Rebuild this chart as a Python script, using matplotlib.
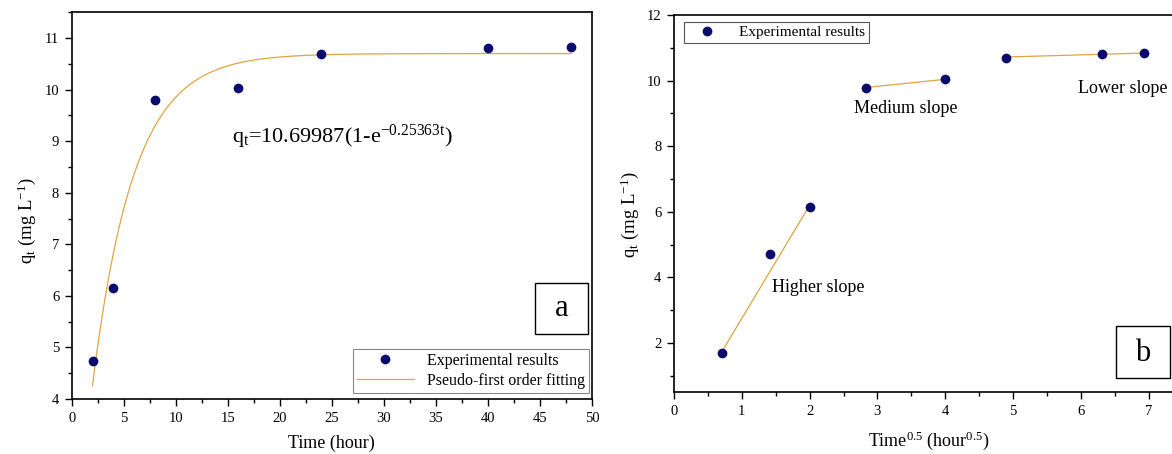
import numpy as np
import matplotlib.pyplot as plt
from matplotlib.patches import Rectangle
from matplotlib.ticker import MultipleLocator

plt.rcParams['font.family'] = ['Liberation Serif', 'DejaVu Serif']
plt.rcParams['mathtext.fontset'] = 'custom'
plt.rcParams['mathtext.rm'] = 'Liberation Serif'
plt.rcParams['mathtext.it'] = 'Liberation Serif:italic'

# panel a: kinetics data
time_h = [2, 4, 8, 16, 24, 40, 48]
qt_a = [4.73, 6.16, 9.79, 10.04, 10.70, 10.81, 10.83]
qe_fit = 10.69987
k1_fit = 0.25363

# panel b: intraparticle diffusion
sqrt_time = [0.71, 1.41, 2.00, 2.83, 4.00, 4.90, 6.32, 6.93]
qt_b = [1.71, 4.73, 6.16, 9.79, 10.04, 10.70, 10.81, 10.83]
seg_x = [[0.71, 2.00], [2.83, 4.00], [4.90, 6.93]]
seg_y = [[1.75, 6.20], [9.79, 10.04], [10.72, 10.84]]
seg_labels = ['Higher slope', 'Medium slope', 'Lower slope']
seg_label_pos = [(1.45, 3.7), (2.65, 9.16), (5.96, 9.77)]

dot_color = '#0b0b6e'
fit_color = '#e0a445'

W, H = 1172, 454
fig = plt.figure(figsize=(W / 100, H / 100), dpi=100)


def style(ax):
    for s in ax.spines.values():
        s.set_linewidth(1.2)
    ax.tick_params(which='both', direction='out', labelsize=10.5, width=1.0,
                   top=False, right=False, pad=4)
    ax.tick_params(which='major', length=5)
    ax.tick_params(which='minor', length=3)


# ---- panel a
ax1 = fig.add_axes([71.7 / W, 1 - 399 / H, (592 - 71.7) / W, (399 - 12.3) / H])
tt = np.linspace(2, 48, 300)
ax1.plot(time_h, qt_a, 'o', color=dot_color, ms=6, label='Experimental results', zorder=3)
ax1.plot(tt, qe_fit * (1 - np.exp(-k1_fit * tt)), color=fit_color, lw=0.9,
         label='Pseudo-first order fitting')
ax1.set_xlim(0, 50)
ax1.set_ylim(4, 11.5)
ax1.xaxis.set_major_locator(MultipleLocator(5))
ax1.xaxis.set_minor_locator(MultipleLocator(2.5))
ax1.yaxis.set_major_locator(MultipleLocator(1))
ax1.yaxis.set_minor_locator(MultipleLocator(0.5))
style(ax1)
ax1.set_xlabel('Time (hour)', fontsize=13)
ax1.xaxis.set_label_coords(0.5, -0.092)
ax1.set_ylabel(r'q$_\mathrm{t}$ (mg L$^{\mathrm{-1}}$)', fontsize=13.5)
ax1.yaxis.set_label_coords(-0.065, 0.46)
ax1.text(15.4, 9.08, r'q$_\mathrm{t}$=10.69987(1-e$^{\mathrm{-0.25363t}}$)', fontsize=16,
         ha='left', va='center')
leg = ax1.legend(loc='lower right', bbox_to_anchor=(0.994, 0.016), borderaxespad=0,
                 fontsize=11.5, fancybox=False, edgecolor='#888888', framealpha=1,
                 handlelength=3.6, borderpad=0.25, labelspacing=0.25)
leg.get_frame().set_linewidth(0.8)
ax1.add_patch(Rectangle((0.890, 0.168), 0.1026, 0.1327, transform=ax1.transAxes,
                        fill=False, lw=1.0, ec='black'))
ax1.text(0.890 + 0.0513, 0.168 + 0.066, 'a', transform=ax1.transAxes,
         fontsize=22, ha='center', va='center')

# ---- panel b
ax2 = fig.add_axes([674 / W, 1 - 392.3 / H, (1182.5 - 674) / W, (392.3 - 15) / H])
ax2.plot(sqrt_time, qt_b, 'o', color=dot_color, ms=6, label='Experimental results', zorder=3)
for xs, ys in zip(seg_x, seg_y):
    ax2.plot(xs, ys, color=fit_color, lw=0.9)
for lab, (lx, ly) in zip(seg_labels, seg_label_pos):
    ax2.text(lx, ly, lab, fontsize=13, ha='left', va='center')
ax2.set_xlim(0, 7.5)
ax2.set_ylim(0.5, 12)
ax2.xaxis.set_major_locator(MultipleLocator(1))
ax2.xaxis.set_minor_locator(MultipleLocator(0.5))
ax2.yaxis.set_major_locator(MultipleLocator(2))
ax2.yaxis.set_minor_locator(MultipleLocator(1))
style(ax2)
ax2.set_xlabel(r'Time$^{\mathrm{0.5}}$ (hour$^{\mathrm{0.5}}$)', fontsize=13)
ax2.xaxis.set_label_coords(0.5, -0.098)
ax2.set_ylabel(r'q$_\mathrm{t}$ (mg L$^{\mathrm{-1}}$)', fontsize=13.5)
ax2.yaxis.set_label_coords(-0.065, 0.47)
leg2 = ax2.legend(loc='upper left', bbox_to_anchor=(0.019, 0.982), borderaxespad=0,
                  fontsize=11, fancybox=False, edgecolor='#555555', framealpha=1,
                  handlelength=2.6, borderpad=0.25)
leg2.get_frame().set_linewidth(0.8)
ax2.add_patch(Rectangle((0.869, 0.038), 0.106, 0.138, transform=ax2.transAxes,
                        fill=False, lw=1.0, ec='black'))
ax2.text(0.869 + 0.053, 0.038 + 0.066, 'b', transform=ax2.transAxes,
         fontsize=22, ha='center', va='center')

fig.savefig('out.png', dpi=100)
